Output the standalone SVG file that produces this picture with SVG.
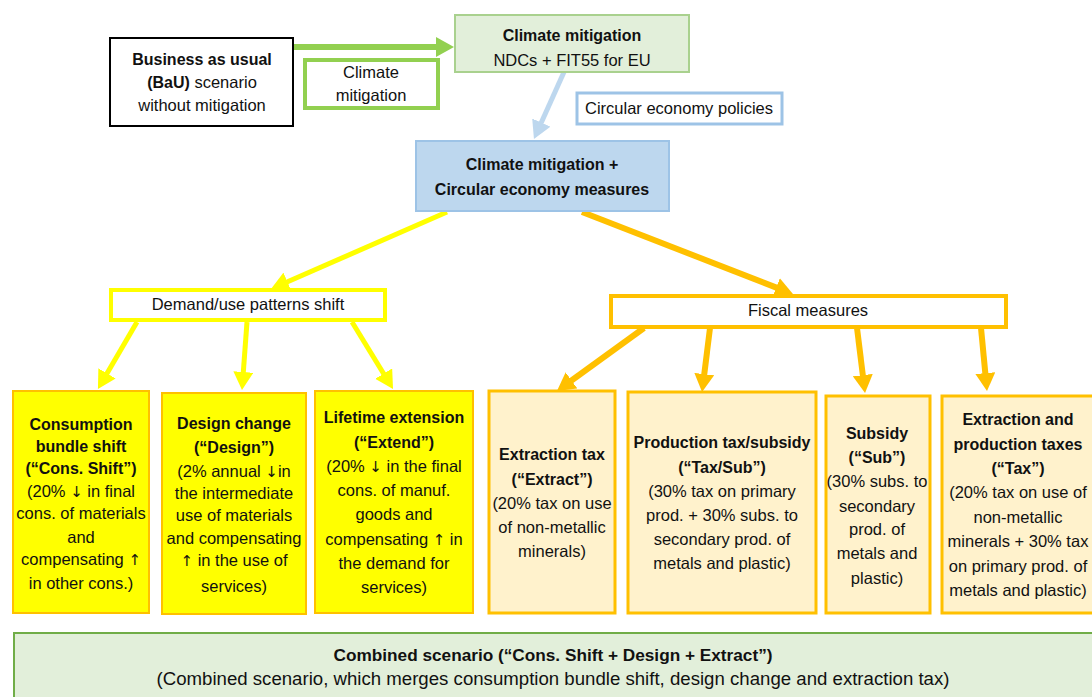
<svg xmlns="http://www.w3.org/2000/svg" width="1092" height="697" viewBox="0 0 1092 697">
<defs>
<style>
text{font-family:"Liberation Sans",Arial,sans-serif;font-size:16.5px;fill:#111;text-anchor:middle}
.b{font-weight:bold;font-size:16px}
.ar{font-family:"DejaVu Sans",sans-serif;font-size:15px}
.yb{fill:#ffff00;stroke:#ffc000;stroke-width:2}
.ob{fill:#fff2cc;stroke:#ffc000;stroke-width:3}
.ya{stroke:#ffff00;stroke-width:5;fill:none}
.oa{stroke:#ffc000;stroke-width:6;fill:none}
</style>
<marker id="mg" viewBox="0 0 18 20" refX="3" refY="10" markerWidth="18" markerHeight="20" markerUnits="userSpaceOnUse" orient="auto"><path d="M0,0 L18,10 L0,20 z" fill="#92d050"/></marker>
<marker id="mb" viewBox="0 0 18 20" refX="3" refY="10" markerWidth="18" markerHeight="20" markerUnits="userSpaceOnUse" orient="auto"><path d="M0,0 L18,10 L0,20 z" fill="#bdd7ee"/></marker>
<marker id="my" viewBox="0 0 18 20" refX="3" refY="10" markerWidth="18" markerHeight="20" markerUnits="userSpaceOnUse" orient="auto"><path d="M0,0 L18,10 L0,20 z" fill="#ffff00"/></marker>
<marker id="mo" viewBox="0 0 18 20" refX="3" refY="10" markerWidth="18" markerHeight="20" markerUnits="userSpaceOnUse" orient="auto"><path d="M0,0 L18,10 L0,20 z" fill="#ffc000"/></marker>
</defs>
<rect width="1092" height="697" fill="#fff"/>

<g id="connectors">
<line x1="293" y1="47" x2="439" y2="47" stroke="#92d050" stroke-width="6" marker-end="url(#mg)"/>
<line x1="564" y1="72" x2="540.1" y2="125.3" stroke="#bdd7ee" stroke-width="5" marker-end="url(#mb)"/>
<line x1="447" y1="212" x2="284.7" y2="283" class="ya" stroke-width="6" marker-end="url(#my)"/>
<line x1="582" y1="212" x2="779" y2="288.6" class="oa" marker-end="url(#mo)"/>
<line x1="137" y1="322" x2="105.5" y2="376" class="ya" marker-end="url(#my)"/>
<line x1="247" y1="322" x2="243.1" y2="375" class="ya" marker-end="url(#my)"/>
<line x1="352" y1="322" x2="385.2" y2="376.2" class="ya" marker-end="url(#my)"/>
<line x1="644" y1="328" x2="569.1" y2="382.2" class="oa" marker-end="url(#mo)"/>
<line x1="710" y1="328" x2="703.9" y2="377.1" class="oa" marker-end="url(#mo)"/>
<line x1="857" y1="328" x2="863.2" y2="378.1" class="oa" marker-end="url(#mo)"/>
<line x1="981" y1="328" x2="985.6" y2="376.1" class="oa" marker-end="url(#mo)"/>
</g>

<g id="bau">
<rect x="110" y="38" width="183" height="88" fill="#fff" stroke="#000" stroke-width="2"/>
<text x="202" y="65" class="b">Business as usual</text>
<text x="202" y="88"><tspan class="b">(BaU)</tspan> scenario</text>
<text x="202" y="111">without mitigation</text>
</g>

<g id="label-climate">
<rect x="305" y="60" width="133" height="48" fill="#fff" stroke="#92d050" stroke-width="4"/>
<text x="371" y="78">Climate</text>
<text x="371" y="101">mitigation</text>
</g>

<g id="climate-mitigation">
<rect x="455" y="15" width="234" height="57" fill="#e2efda" stroke="#a9d18e" stroke-width="2"/>
<text x="572" y="41" class="b">Climate mitigation</text>
<text x="572" y="66">NDCs + FIT55 for EU</text>
</g>

<g id="label-ce">
<rect x="577" y="93" width="205" height="31" fill="#fff" stroke="#9dc3e6" stroke-width="3"/>
<text x="679" y="114">Circular economy policies</text>
</g>

<g id="ce-measures">
<rect x="416" y="141" width="253" height="70" fill="#bdd7ee" stroke="#9dc3e6" stroke-width="2"/>
<text x="542" y="170" class="b">Climate mitigation +</text>
<text x="542" y="195" class="b">Circular economy measures</text>
</g>

<g id="demand">
<rect x="111" y="290" width="274" height="30" fill="#fff" stroke="#ffff00" stroke-width="4"/>
<text x="248" y="310">Demand/use patterns shift</text>
</g>

<g id="fiscal">
<rect x="611" y="296" width="395" height="31" fill="#fff" stroke="#ffc000" stroke-width="4"/>
<text x="808" y="316">Fiscal measures</text>
</g>

<g id="cons-shift">
<rect x="13" y="391" width="136" height="222" class="yb"/>
<text x="81" y="430" class="b">Consumption</text>
<text x="81" y="452" class="b">bundle shift</text>
<text x="81" y="474" class="b">(“Cons. Shift”)</text>
<text x="81" y="497">(20% <tspan class="ar">↓</tspan> in final</text>
<text x="81" y="519">cons. of materials</text>
<text x="81" y="543">and</text>
<text x="81" y="565">compensating <tspan class="ar">↑</tspan></text>
<text x="81" y="589">in other cons.)</text>
</g>

<g id="design">
<rect x="162" y="393" width="144" height="221" class="yb"/>
<text x="234" y="429" class="b">Design change</text>
<text x="234" y="453" class="b">(“Design”)</text>
<text x="234" y="477">(2% annual <tspan class="ar">↓</tspan>in</text>
<text x="234" y="499">the intermediate</text>
<text x="234" y="521">use of materials</text>
<text x="234" y="544">and compensating</text>
<text x="234" y="566"><tspan class="ar">↑</tspan> in the use of</text>
<text x="234" y="592">services)</text>
</g>

<g id="extend">
<rect x="315" y="391" width="158" height="222" class="yb"/>
<text x="394" y="423" class="b">Lifetime extension</text>
<text x="394" y="448" class="b">(“Extend”)</text>
<text x="394" y="472">(20% <tspan class="ar">↓</tspan> in the final</text>
<text x="394" y="496">cons. of manuf.</text>
<text x="394" y="520">goods and</text>
<text x="394" y="545">compensating <tspan class="ar">↑</tspan> in</text>
<text x="394" y="569">the demand for</text>
<text x="394" y="593">services)</text>
</g>

<g id="extract">
<rect x="489" y="391" width="126" height="222" class="ob"/>
<text x="552" y="460" class="b">Extraction tax</text>
<text x="552" y="485" class="b">(“Extract”)</text>
<text x="552" y="509">(20% tax on use</text>
<text x="552" y="533">of non-metallic</text>
<text x="552" y="557">minerals)</text>
</g>

<g id="taxsub">
<rect x="628" y="392" width="188" height="221" class="ob"/>
<text x="722" y="448" class="b">Production tax/subsidy</text>
<text x="722" y="473" class="b">(“Tax/Sub”)</text>
<text x="722" y="497">(30% tax on primary</text>
<text x="722" y="521">prod. + 30% subs. to</text>
<text x="722" y="545">secondary prod. of</text>
<text x="722" y="569">metals and plastic)</text>
</g>

<g id="sub">
<rect x="826" y="396" width="104" height="217" class="ob"/>
<text x="877" y="439" class="b">Subsidy</text>
<text x="877" y="463" class="b">(“Sub”)</text>
<text x="877" y="487">(30% subs. to</text>
<text x="877" y="512">secondary</text>
<text x="877" y="535">prod. of</text>
<text x="877" y="559">metals and</text>
<text x="877" y="584">plastic)</text>
</g>

<g id="tax">
<rect x="942" y="396" width="160" height="217" class="ob"/>
<text x="1018" y="425" class="b">Extraction and</text>
<text x="1018" y="450" class="b">production taxes</text>
<text x="1018" y="474" class="b">(“Tax”)</text>
<text x="1018" y="498">(20% tax on use of</text>
<text x="1018" y="523">non-metallic</text>
<text x="1018" y="547">minerals + 30% tax</text>
<text x="1018" y="572">on primary prod. of</text>
<text x="1018" y="596">metals and plastic)</text>
</g>

<g id="combined">
<rect x="14" y="633" width="1090" height="80" fill="#e2efda" stroke="#70ad47" stroke-width="2"/>
<text x="553" y="661" class="b" style="font-size:17px" textLength="439" lengthAdjust="spacingAndGlyphs">Combined scenario (“Cons. Shift + Design + Extract”)</text>
<text x="553" y="685" style="font-size:17.5px" textLength="793" lengthAdjust="spacingAndGlyphs">(Combined scenario, which merges consumption bundle shift, design change and extraction tax)</text>
</g>
</svg>
